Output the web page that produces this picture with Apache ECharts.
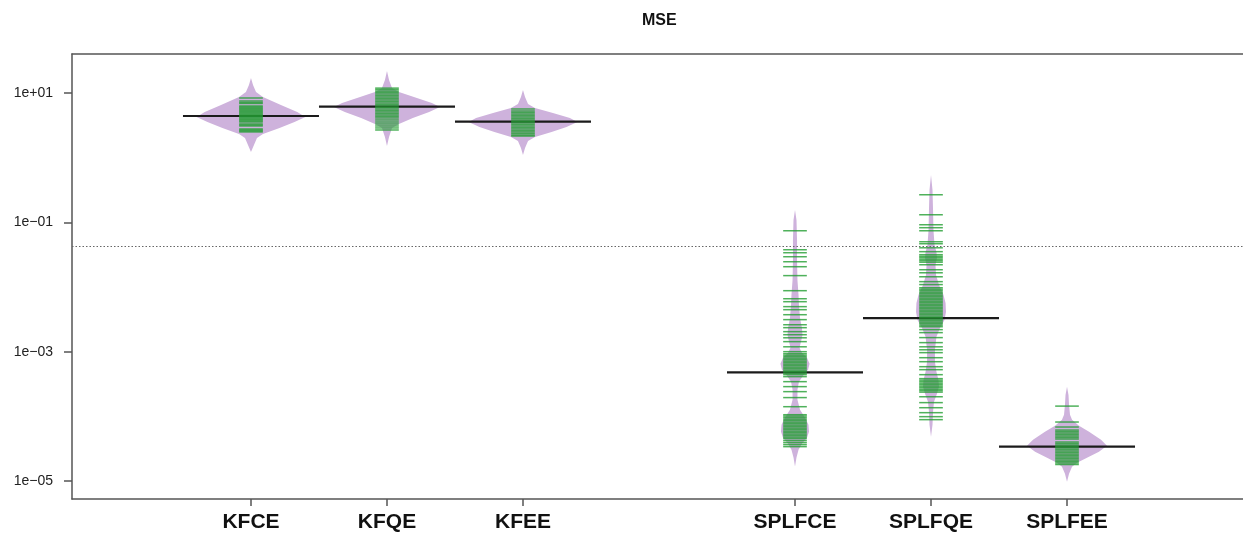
<!DOCTYPE html>
<html><head><meta charset="utf-8">
<script src="https://cdn.jsdelivr.net/npm/echarts@6/dist/echarts.min.js"></script>
<style>html,body{margin:0;padding:0;background:#fff}#c{width:1243px;height:533px}</style>
</head><body><div id="c"></div><script>
// ---- data ----
const categories = ['KFCE', 'KFQE', 'KFEE', 'SPLFCE', 'SPLFQE', 'SPLFEE'];
const positions = [1, 2, 3, 5, 6, 7];
const yTickExponents = [-5, -3, -1, 1];
const overallMean = 0.043;
const averages = [4.41, 6.14, 3.6, 0.00048, 0.0033, 0.000034];

// individual observations (MSE)
const obsKFCE = [8.37, 7.52, 7.13, 6.88, 6.30, 6.08, 5.86, 5.66, 5.46, 5.27, 5.09, 4.91, 4.73, 4.57, 4.41, 4.26, 4.11, 3.96, 3.83, 3.69, 3.56, 3.32, 3.20, 3.09, 2.78, 2.68, 2.59, 2.50];
const obsKFQE = [11.9, 11.3, 10.7, 10.2, 9.66, 9.15, 8.67, 8.22, 7.80, 7.39, 7.00, 6.64, 6.30, 5.97, 5.66, 5.37, 5.09, 4.82, 4.57, 4.34, 4.11, 3.83, 3.56, 3.32, 3.09, 2.88, 2.68];
const obsKFEE = [5.66, 5.27, 5.00, 4.73, 4.49, 4.26, 4.04, 3.83, 3.63, 3.44, 3.26, 3.09, 2.93, 2.78, 2.63, 2.50, 2.37, 2.24, 2.16];
const obsSPLFCE = [0.0741, 0.0377, 0.0339, 0.0294, 0.0246, 0.0206, 0.0150, 0.00877, 0.00659, 0.00593, 0.00497, 0.00446, 0.00373, 0.00313, 0.00261, 0.00235, 0.00204, 0.00183, 0.00164, 0.00143, 0.00119, 0.00100,
  0.000931, 0.000883, 0.000837, 0.000794, 0.000752, 0.000713, 0.000676, 0.000641, 0.000608, 0.000576, 0.000546, 0.000518, 0.000491, 0.000466, 0.000441, 0.000411, 0.000344, 0.000288, 0.000241, 0.000195, 0.000141,
  0.000106, 0.000101, 0.0000955, 0.0000905, 0.0000859, 0.0000813, 0.0000771, 0.0000731, 0.0000693, 0.0000657, 0.0000623, 0.0000590, 0.0000560, 0.0000531, 0.0000503, 0.0000477, 0.0000452, 0.0000421, 0.0000392, 0.0000365, 0.0000340];
const obsSPLFQE = [0.267, 0.131, 0.0918, 0.0826, 0.0741, 0.0501, 0.0467, 0.0404, 0.0352, 0.0316, 0.0299, 0.0284, 0.0269, 0.0255, 0.0242, 0.0221, 0.0185, 0.0166, 0.0144, 0.0121, 0.0109,
  0.00975, 0.00925, 0.00877, 0.00831, 0.00788, 0.00747, 0.00708, 0.00671, 0.00636, 0.00603, 0.00572, 0.00542, 0.00514, 0.00487, 0.00462, 0.00438, 0.00415, 0.00394, 0.00373, 0.00354, 0.00335, 0.00318, 0.00301, 0.00286, 0.00271, 0.00257, 0.00243,
  0.00219, 0.00197, 0.00165, 0.00138, 0.00119, 0.00107, 0.000966, 0.000807, 0.000700, 0.000586, 0.000527, 0.000441,
  0.000383, 0.000363, 0.000344, 0.000326, 0.000309, 0.000293, 0.000278, 0.000263, 0.000250, 0.000237, 0.000201, 0.000163, 0.000136, 0.000114, 0.0000989, 0.0000889];
const obsSPLFEE = [0.000144, 0.0000817, 0.0000684, 0.0000614, 0.0000582, 0.0000552, 0.0000523, 0.0000496, 0.0000470, 0.0000446, 0.0000401, 0.0000380, 0.0000360, 0.0000341, 0.0000324, 0.0000307, 0.0000291, 0.0000276, 0.0000261, 0.0000248, 0.0000235, 0.0000223, 0.0000211, 0.0000200, 0.0000190, 0.0000180];

// bean outlines: [log10(MSE), half width in x units]
const shapeKFCE = [[1.232,0],[1.124,0.015],[1.015,0.037],[0.938,0.088],[0.815,0.22],[0.706,0.34],[0.629,0.40],[0.552,0.32],[0.459,0.21],[0.366,0.088],[0.304,0.044],[0.196,0.022],[0.088,0]];
const shapeKFQE = [[1.340,0],[1.201,0.015],[1.077,0.037],[1.015,0.088],[0.923,0.22],[0.845,0.33],[0.784,0.39],[0.706,0.31],[0.614,0.19],[0.521,0.088],[0.459,0.037],[0.320,0.015],[0.181,0]];
const shapeKFEE = [[1.046,0],[0.938,0.015],[0.830,0.037],[0.768,0.088],[0.691,0.22],[0.614,0.345],[0.552,0.40],[0.474,0.32],[0.397,0.21],[0.320,0.088],[0.258,0.037],[0.150,0.015],[0.042,0]];
const shapeSPLFCE = [[-0.808,0],[-0.963,0.011],[-1.272,0.015],[-1.581,0.015],[-1.890,0.018],[-2.122,0.026],[-2.277,0.029],[-2.478,0.037],[-2.632,0.051],[-2.741,0.055],[-2.845,0.044],[-2.938,0.033],[-3.015,0.051],[-3.093,0.088],[-3.185,0.107],[-3.278,0.096],[-3.371,0.059],[-3.464,0.029],[-3.588,0.018],[-3.743,0.018],[-3.897,0.037],[-4.020,0.074],[-4.128,0.099],[-4.237,0.103],[-4.329,0.088],[-4.422,0.051],[-4.515,0.026],[-4.638,0.011],[-4.777,0]];
const shapeSPLFQE = [[-0.267,0],[-0.499,0.011],[-0.808,0.015],[-1.117,0.018],[-1.349,0.026],[-1.457,0.040],[-1.550,0.044],[-1.658,0.033],[-1.813,0.037],[-1.968,0.059],[-2.122,0.092],[-2.246,0.107],[-2.385,0.110],[-2.509,0.099],[-2.632,0.066],[-2.771,0.040],[-2.972,0.029],[-3.158,0.029],[-3.312,0.040],[-3.436,0.055],[-3.544,0.059],[-3.652,0.044],[-3.776,0.022],[-3.930,0.015],[-4.131,0.011],[-4.317,0]];
const shapeSPLFEE = [[-3.544,0],[-3.668,0.011],[-3.822,0.015],[-3.977,0.022],[-4.054,0.037],[-4.147,0.088],[-4.240,0.162],[-4.363,0.25],[-4.456,0.294],[-4.549,0.235],[-4.641,0.147],[-4.719,0.074],[-4.781,0.037],[-4.889,0.015],[-5.012,0]];

const observations = [obsKFCE, obsKFQE, obsKFEE, obsSPLFCE, obsSPLFQE, obsSPLFEE];
const shapes = [shapeKFCE, shapeKFQE, shapeKFEE, shapeSPLFCE, shapeSPLFQE, shapeSPLFEE];

// ---- styling ----
const FONT = 'Liberation Sans, Arial, sans-serif';
const BEAN = '#ceb2dc';
const LINE_GREEN = 'rgba(35,158,50,0.8)';
const AXIS = '#555';
const BEANLINE_HALF = 0.087;
const AVG_HALF = 0.5;

const beanData = positions.map((p, i) => [p, Math.log10(averages[i]), i]);
const lineData = [];
observations.forEach((arr, i) => arr.forEach(v => lineData.push([positions[i], Math.log10(v)])));
const avgData = positions.map((p, i) => [p, Math.log10(averages[i])]);

const fmtExp = v => '1e' + (v < 0 ? '\u2212' : '+') + String(Math.abs(Math.round(v))).padStart(2, '0');

const chart = echarts.init(document.getElementById('c'), null, {renderer: 'canvas'});
chart.setOption({
  animation: false,
  backgroundColor: '#fff',
  textStyle: {fontFamily: FONT},
  title: {text: 'MSE', left: 637, top: 8, textStyle: {fontFamily: FONT, fontSize: 16, fontWeight: 'bold', color: '#111'}},
  grid: {left: 72, right: 0, top: 54, bottom: 34, outerBoundsMode: 'none', containLabel: false},
  xAxis: [{
    type: 'value', min: -0.316, max: 8.294, position: 'bottom',
    axisLine: {show: true, onZero: false, lineStyle: {color: AXIS, width: 1.5}},
    axisTick: {show: true, customValues: positions, length: 7, lineStyle: {color: AXIS, width: 1.5}},
    axisLabel: {show: true, customValues: positions, margin: 13, fontFamily: FONT, fontSize: 21, fontWeight: 'bold', color: '#111',
      formatter: v => categories[positions.indexOf(Math.round(v))] || ''},
    splitLine: {show: false}
  }, {
    type: 'value', min: -0.316, max: 8.294, position: 'top',
    axisLine: {show: true, onZero: false, lineStyle: {color: AXIS, width: 1.5}},
    axisTick: {show: false}, axisLabel: {show: false}, splitLine: {show: false}
  }],
  yAxis: {
    type: 'value', min: -5.278, max: 1.603,
    axisLine: {show: true, onZero: false, lineStyle: {color: AXIS, width: 1.5}},
    axisTick: {show: true, customValues: yTickExponents, length: 8, lineStyle: {color: AXIS, width: 1.5}},
    axisLabel: {show: true, customValues: yTickExponents, margin: 19, fontFamily: FONT, fontSize: 14, color: '#222', formatter: fmtExp},
    splitLine: {show: false}
  },
  series: [{
    type: 'custom', name: 'beans', xAxisIndex: 0, yAxisIndex: 0, z: 2,
    data: beanData,
    renderItem: (params, api) => {
      const i = params.dataIndex;
      const pos = api.value(0);
      const shp = shapes[i];
      const pts = [];
      shp.forEach(([l, w]) => pts.push(api.coord([pos - w, l])));
      for (let k = shp.length - 1; k >= 0; k--) pts.push(api.coord([pos + shp[k][1], shp[k][0]]));
      return {type: 'polygon', shape: {points: pts, smooth: 0}, style: {fill: BEAN, stroke: null}};
    }
  }, {
    type: 'custom', name: 'average', z: 3,
    data: avgData,
    renderItem: (params, api) => {
      const p = api.value(0), y = api.value(1);
      const a = api.coord([p - AVG_HALF, y]), b = api.coord([p + AVG_HALF, y]);
      return {type: 'line', shape: {x1: a[0], y1: a[1], x2: b[0], y2: b[1]}, style: {stroke: '#1b1b1b', lineWidth: 2.2}};
    },
    markLine: {
      silent: true, symbol: ['none', 'none'], label: {show: false},
      lineStyle: {type: [1.5, 2], color: '#666', width: 1},
      data: [{yAxis: Math.log10(overallMean)}]
    }
  }, {
    type: 'custom', name: 'beanlines', z: 4,
    data: lineData,
    renderItem: (params, api) => {
      const p = api.value(0), y = api.value(1);
      const a = api.coord([p - BEANLINE_HALF, y]), b = api.coord([p + BEANLINE_HALF, y]);
      return {type: 'line', shape: {x1: a[0], y1: a[1], x2: b[0], y2: b[1]}, style: {stroke: LINE_GREEN, lineWidth: 1.5}};
    }
  }]
});
</script></body></html>
